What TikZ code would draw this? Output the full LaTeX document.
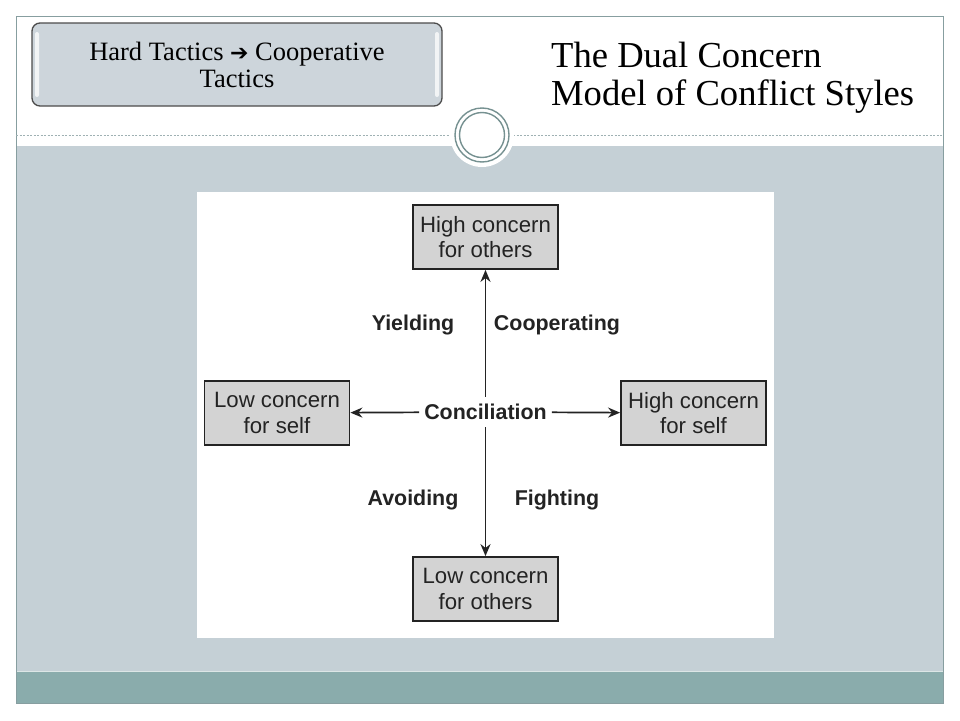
\documentclass[tikz,border=0pt]{standalone}
\usepackage{fontspec}
\setmainfont{Liberation Serif}
\newfontfamily\diagfont{Liberation Sans}
\newfontfamily\arrowfont{DejaVu Sans}
\usetikzlibrary{arrows.meta}
\definecolor{slidegray}{RGB}{197,208,214}
\definecolor{slideteal}{RGB}{138,172,172}
\definecolor{framegray}{RGB}{135,158,160}
\definecolor{ringgray}{RGB}{118,145,145}
\definecolor{tabfill}{RGB}{205,213,219}
\definecolor{boxgray}{RGB}{211,211,211}
\definecolor{inkgray}{RGB}{35,35,35}
\tikzset{
  concernbox/.style={draw=inkgray, fill=boxgray, line width=1.8pt, minimum width=145pt, minimum height=64pt,
    align=center, text=inkgray, inner sep=0pt, font=\diagfont\fontsize{22.2}{25.5}\selectfont},
  stylelabel/.style={text=inkgray, inner sep=5pt, font=\diagfont\bfseries\fontsize{21.4}{24}\selectfont},
  arr/.style={draw=inkgray, line width=1.7pt, -{Stealth[length=12pt,width=10pt]}}
}
\begin{document}
\begin{tikzpicture}[x=1pt,y=-1pt]
\useasboundingbox (0,0) rectangle (960,720);
% slide background
\fill[white] (0,0) rectangle (960,720);
\fill[slidegray] (16,146) rectangle (943,671);
\fill[slideteal] (16,671) rectangle (943,703);
\draw[white!70!slideteal, line width=0.8pt] (16,671.5) -- (943,671.5);
\draw[framegray, line width=1pt] (16,16) rectangle (943,703);
\draw[framegray!80, line width=0.6pt, dash pattern=on 2pt off 1.5pt] (16,135) -- (943,135);
% circle ornament
\fill[white] (482,135) circle (32);
\draw[ringgray, line width=1.4pt] (482,135) circle (27);
\draw[ringgray, line width=1.4pt] (482,135) circle (22.5);
% tab box
\draw[fill=tabfill, draw=black!70, line width=1.3pt, rounded corners=8pt] (32,23) rectangle (442,106);
\fill[white, opacity=0.75, rounded corners=2pt] (35,32) rectangle (39,97);
\fill[white, opacity=0.75, rounded corners=2pt] (435,32) rectangle (439,97);
\node[align=center, font=\fontsize{26.5}{26.5}\selectfont] (tab) at (237,65)
  {Hard Tactics {\arrowfont\fontsize{22}{24}\selectfont ➔} Cooperative\\Tactics};
% title
\node[anchor=west, align=left, font=\fontsize{36.6}{38}\selectfont, inner sep=0pt] (title) at (551,78)
  {The Dual Concern\\Model of Conflict Styles};
% diagram panel
\fill[white] (197,192) rectangle (774,638);
\node[concernbox] (top) at (485.5,237) {High concern\\for others};
\node[concernbox] (left) at (277,413) {Low concern\\for self};
\node[concernbox] (right) at (693.5,413) {High concern\\for self};
\node[concernbox] (bottom) at (485.5,589) {Low concern\\for others};
\node[stylelabel, inner ysep=7pt] (conc) at (485.5,412) {Conciliation};
\node[stylelabel] (yield) at (413,325) {Yielding};
\node[stylelabel] (coop) at (557,325) {Cooperating};
\node[stylelabel] (avoid) at (413,500) {Avoiding};
\node[stylelabel] (fight) at (557,500) {Fighting};
\draw[arr] (conc) -- (top);
\draw[arr] (conc) -- (bottom);
\draw[arr] (conc) -- (left);
\draw[arr] (conc) -- (right);
\end{tikzpicture}
\end{document}
